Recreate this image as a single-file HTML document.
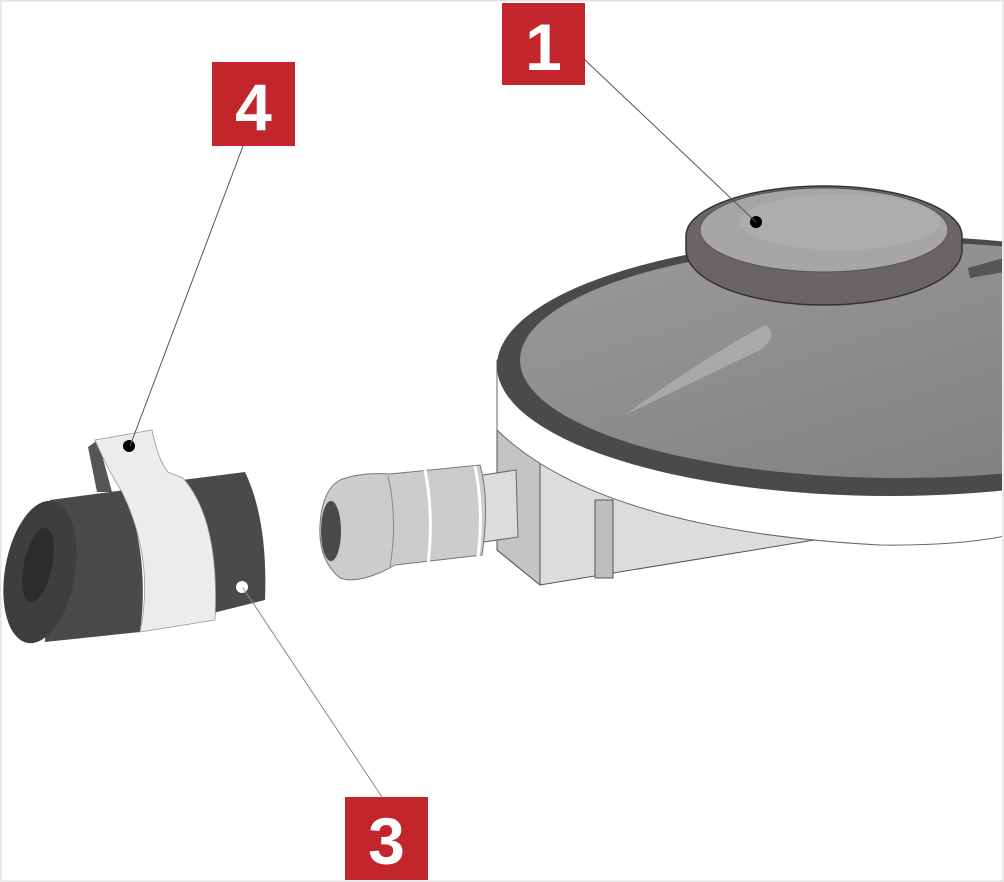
<!DOCTYPE html>
<html><head><meta charset="utf-8"><style>
html,body{margin:0;padding:0;background:#fff;}
svg{display:block;}
text{font-family:"Liberation Sans",sans-serif;font-weight:bold;fill:#fff;}
</style></head><body>
<svg width="1004" height="882" viewBox="0 0 1004 882" xmlns="http://www.w3.org/2000/svg">
<defs>
<linearGradient id="dome" x1="0" y1="0" x2="1" y2="1">
<stop offset="0" stop-color="#9a9a9a"/><stop offset="1" stop-color="#7c7c7c"/>
</linearGradient>
<clipPath id="cl"><rect x="0" y="0" width="1002" height="882"/></clipPath>
</defs>
<rect x="0.5" y="0.5" width="1003" height="881" fill="#fff" stroke="#e6e3e4" stroke-width="2"/>

<g clip-path="url(#cl)">
<polygon points="497,425 497,550 540,585 1010,508 1010,450" fill="#dcdcdc" stroke="#555" stroke-width="1"/>
<polygon points="497,425 497,550 540,585 540,455" fill="#c4c4c4" stroke="#555" stroke-width="1"/>
<rect x="595" y="500" width="18" height="78" fill="#bdbdbd" stroke="#555" stroke-width="1"/>
<path d="M497,360 L497,430 Q600,530 880,545 Q960,546 1010,535 L1010,360 Z" fill="#fff" stroke="#666" stroke-width="1"/>
<ellipse cx="890" cy="366" rx="393" ry="130" fill="#4a4a4a"/>
<ellipse cx="900" cy="360" rx="380" ry="118" fill="url(#dome)"/>
<path d="M765,325 Q780,335 760,350 L625,415 Q700,360 765,325 Z" fill="#b0b0b0" opacity="0.8"/>
<path d="M968,268 L1004,258 L1004,272 L970,278 Z" fill="#555"/>
<!-- knob collar -->
<path d="M686,236 L686,250 A138,55 0 0 0 962,250 L962,236 A138,50 0 0 0 686,236 Z" fill="#6b6464" stroke="#333" stroke-width="1.5"/>
<ellipse cx="824" cy="230" rx="124" ry="42" fill="#a6a6a6" stroke="#555" stroke-width="1"/>
<ellipse cx="840" cy="222" rx="100" ry="28" fill="#adadad"/>
</g>

<!-- nozzle -->
<polygon points="470,477 516,470 518,537 470,544" fill="#dcdcdc" stroke="#666" stroke-width="1"/>
<path d="M340,480 Q360,472 390,474 L480,465 Q490,500 482,555 L395,565 Q360,585 340,578 Q318,560 320,525 Q322,490 340,480 Z" fill="#cccccc" stroke="#777" stroke-width="1"/>
<path d="M388,476 Q398,520 390,567" fill="none" stroke="#888" stroke-width="1"/>
<path d="M425,470 Q434,515 428,564" fill="none" stroke="#fff" stroke-width="3"/>
<path d="M475,466 Q484,510 478,557" fill="none" stroke="#fff" stroke-width="3"/>
<ellipse cx="331" cy="531" rx="10" ry="30" fill="#4a4a4a"/>

<!-- coupler -->
<path d="M182,480 L245,472 Q268,520 265,600 L205,615 Z" fill="#4a4a4a"/>
<polygon points="88,447 98,440 112,492 97,492" fill="#555"/>
<path d="M50,500 L125,490 Q150,560 140,632 L45,642 Z" fill="#4a4a4a"/>
<ellipse cx="40" cy="572" rx="35" ry="72" fill="#3e3e3e" transform="rotate(10 40 572)"/>
<ellipse cx="38" cy="565" rx="14" ry="38" fill="#2c2c2c" transform="rotate(12 38 565)"/>
<path d="M95,440 L152,430 Q158,460 168,472 L183,478 Q220,520 215,620 L140,632 Q155,560 122,492 Q108,470 95,440 Z" fill="#ececec" stroke="#999" stroke-width="0.8"/>
<circle cx="242" cy="587" r="6" fill="#fff"/>
<circle cx="129" cy="446" r="6" fill="#000"/>
<circle cx="756" cy="222" r="6" fill="#000"/>

<line x1="585" y1="60" x2="756" y2="222" stroke="#555" stroke-width="1"/>
<line x1="243" y1="146" x2="130" y2="446" stroke="#555" stroke-width="1"/>
<line x1="243" y1="588" x2="382" y2="797" stroke="#888" stroke-width="1"/>

<rect x="502" y="3" width="83" height="82" fill="#c3252c"/>
<text x="543.5" y="70" font-size="66" text-anchor="middle">1</text>
<rect x="212" y="62" width="83" height="84" fill="#c3252c"/>
<text x="253.5" y="130" font-size="66" text-anchor="middle">4</text>
<rect x="345" y="797" width="83" height="83" fill="#c3252c"/>
<text x="386.5" y="864" font-size="66" text-anchor="middle">3</text>
</svg>
</body></html>
